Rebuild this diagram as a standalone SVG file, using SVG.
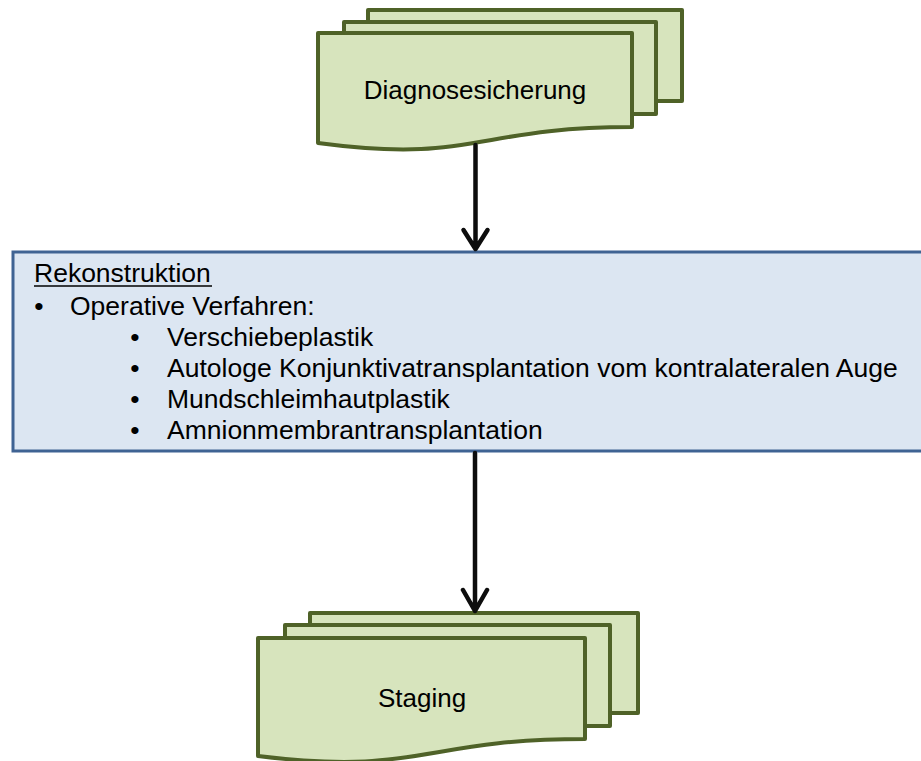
<svg xmlns="http://www.w3.org/2000/svg" width="921" height="761" viewBox="0 0 921 761">
<style>
.doc{fill:#d7e4bd;stroke:#4f6228;stroke-width:4;stroke-linejoin:round}
.box{fill:#dce6f2;stroke:#3f6393;stroke-width:3}
.t{font-family:"Liberation Sans",Arial,sans-serif;font-size:26px;fill:#000}
.b{font-size:26.5px}
.c{stroke:#0d0d0d;stroke-width:4.5;fill:none;stroke-linecap:round;stroke-linejoin:round}
</style>
<rect width="921" height="761" fill="#fff"/>
<g id="node-diagnosesicherung">
<rect class="doc" x="368" y="10" width="314" height="91"/>
<rect class="doc" x="344" y="22" width="312" height="92"/>
<path class="doc" d="M318,33 H632 V127 C475,127 475,164 318,143 Z"/>
<text class="t" x="475" y="99" text-anchor="middle">Diagnosesicherung</text>
</g>
<g id="node-rekonstruktion">
<rect class="box" x="13" y="252" width="920" height="199"/>
<text class="t b" x="34" y="282">Rekonstruktion</text>
<line x1="34" y1="286" x2="212" y2="286" stroke="#000" stroke-width="1.6"/>
<text class="t b" x="39" y="315" text-anchor="middle">•</text>
<text class="t b" x="70" y="315">Operative Verfahren:</text>
<text class="t b" x="135" y="346" text-anchor="middle">•</text>
<text class="t b" x="167" y="346">Verschiebeplastik</text>
<text class="t b" x="135" y="377" text-anchor="middle">•</text>
<text class="t b" x="167" y="377">Autologe Konjunktivatransplantation vom kontralateralen Auge</text>
<text class="t b" x="135" y="408" text-anchor="middle">•</text>
<text class="t b" x="167" y="408">Mundschleimhautplastik</text>
<text class="t b" x="135" y="439" text-anchor="middle">•</text>
<text class="t b" x="167" y="439">Amnionmembrantransplantation</text>
</g>
<g id="node-staging">
<rect class="doc" x="310" y="613" width="328" height="100"/>
<rect class="doc" x="285" y="625" width="325" height="101"/>
<path class="doc" d="M258,638 H585 V739 C421.5,739 421.5,776 258,756 Z"/>
<text class="t" x="422" y="707" text-anchor="middle">Staging</text>
</g>
<g id="connectors">
<path class="c" d="M475.5,145 V249 M463.5,230 L475.5,249 L487.5,230"/>
<path class="c" d="M475,453 V611 M463,590 L475,611 L487,590"/>
</g>
</svg>
